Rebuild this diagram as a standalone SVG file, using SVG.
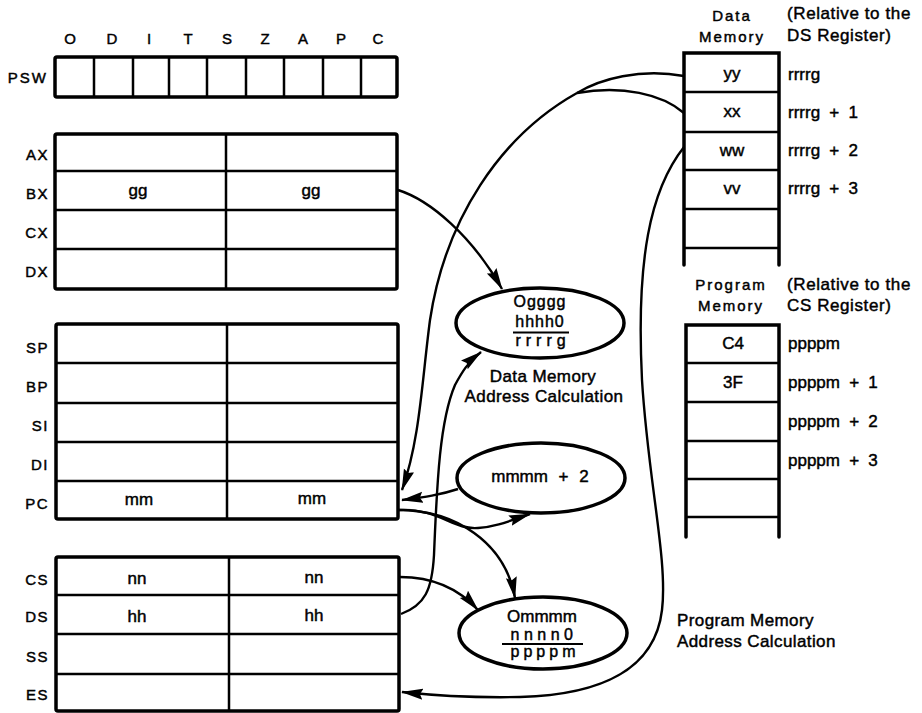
<svg xmlns="http://www.w3.org/2000/svg" width="922" height="713" viewBox="0 0 922 713">
<defs>
<style>
text { font-family: "Liberation Sans", Arial, sans-serif; fill: #000; stroke: #000; stroke-width: 0.45px; }
.lbl { font-size: 15px; letter-spacing: 1.5px; text-anchor: end; }
.flag { font-size: 15px; text-anchor: middle; }
.val { font-size: 17px; text-anchor: middle; }
.hdr { font-size: 15px; letter-spacing: 2px; text-anchor: middle; }
.rel { font-size: 17px; letter-spacing: 0.6px; }
.off { font-size: 17px; word-spacing: 4.5px; }
.calc { font-size: 16px; text-anchor: middle; }
.cap { font-size: 17px; letter-spacing: 0.4px; }
.box { fill: #fff; stroke: #000; stroke-width: 3.5; }
.ln { stroke: #000; stroke-width: 2.5; fill: none; }
.thick { stroke: #000; stroke-width: 3.5; fill: none; stroke-linecap: round; }
.ell { fill: #fff; stroke: #000; stroke-width: 3.5; }
.wire { fill: none; stroke: #000; stroke-width: 2.4; }
.arr { marker-end: url(#ah); }
</style>
<marker id="ah" markerUnits="userSpaceOnUse" markerWidth="24" markerHeight="12" refX="21" refY="5.5" orient="auto">
<path d="M0,0 L22,5.5 L0,11 L3,5.5 z" fill="#000"/>
</marker>
</defs>
<rect width="922" height="713" fill="#fff"/>

<g id="psw">
<text class="flag" x="70" y="44">O</text>
<text class="flag" x="112" y="44">D</text>
<text class="flag" x="149" y="44">I</text>
<text class="flag" x="188" y="44">T</text>
<text class="flag" x="227" y="44">S</text>
<text class="flag" x="265" y="44">Z</text>
<text class="flag" x="303" y="44">A</text>
<text class="flag" x="341" y="44">P</text>
<text class="flag" x="378" y="44">C</text>
<text class="lbl" x="48" y="83" style="letter-spacing:2px">PSW</text>
<rect class="box" x="55" y="57" width="342" height="40" rx="2"/>
<path class="ln" d="M94 57V97M133 57V97M169 57V97M207 57V97M246 57V97M284 57V97M323 57V97M361 57V97"/>
</g>

<g id="general-registers">
<rect class="box" x="55" y="134" width="342" height="155" rx="2"/>
<path class="ln" d="M226 134V289M55 171H397M55 210H397M55 249H397"/>
<text class="lbl" x="49" y="160">AX</text>
<text class="lbl" x="49" y="199">BX</text>
<text class="lbl" x="49" y="238">CX</text>
<text class="lbl" x="49" y="277">DX</text>
<text class="val" x="138" y="196">gg</text>
<text class="val" x="311" y="196">gg</text>
</g>

<g id="pointer-registers">
<rect class="box" x="56" y="324" width="342" height="195" rx="2"/>
<path class="ln" d="M227 324V519M56 363H398M56 403H398M56 442H398M56 481H398"/>
<text class="lbl" x="49" y="353">SP</text>
<text class="lbl" x="49" y="392">BP</text>
<text class="lbl" x="49" y="431">SI</text>
<text class="lbl" x="49" y="470">DI</text>
<text class="lbl" x="49" y="509">PC</text>
<text class="val" x="139" y="505">mm</text>
<text class="val" x="312" y="504">mm</text>
</g>

<g id="segment-registers">
<rect class="box" x="56" y="557" width="343" height="154" rx="2"/>
<path class="ln" d="M229 557V711M56 595H399M56 634H399M56 674H399"/>
<text class="lbl" x="49" y="585">CS</text>
<text class="lbl" x="49" y="622">DS</text>
<text class="lbl" x="49" y="662">SS</text>
<text class="lbl" x="49" y="700">ES</text>
<text class="val" x="137" y="584">nn</text>
<text class="val" x="314" y="583">nn</text>
<text class="val" x="137" y="622">hh</text>
<text class="val" x="314" y="621">hh</text>
</g>

<g id="data-memory">
<text class="hdr" x="732" y="21">Data</text>
<text class="hdr" x="732" y="42">Memory</text>
<text class="rel" x="787" y="19">(Relative to the</text>
<text class="rel" x="787" y="41">DS Register)</text>
<rect x="684" y="53" width="95" height="212" fill="#fff"/>
<path class="thick" d="M684 265V53H779V265"/>
<path class="ln" d="M684 92H779M684 132H779M684 170H779M684 209H779M684 248H779"/>
<text class="val" x="732" y="79">yy</text>
<text class="val" x="732" y="117">xx</text>
<text class="val" x="732" y="156">ww</text>
<text class="val" x="732" y="194">vv</text>
<text class="off" x="788" y="80">rrrrg</text>
<text class="off" x="788" y="118">rrrrg + 1</text>
<text class="off" x="788" y="156">rrrrg + 2</text>
<text class="off" x="788" y="194">rrrrg + 3</text>
</g>

<g id="program-memory">
<text class="hdr" x="731" y="290">Program</text>
<text class="hdr" x="731" y="311">Memory</text>
<text class="rel" x="787" y="290">(Relative to the</text>
<text class="rel" x="787" y="311">CS Register)</text>
<path class="thick" d="M686 537V325H779V537"/>
<path class="ln" d="M686 363H779M686 402H779M686 441H779M686 479H779M686 517H779"/>
<text class="val" x="733" y="349">C4</text>
<text class="val" x="733" y="388">3F</text>
<text class="off" x="788" y="349">ppppm</text>
<text class="off" x="788" y="388">ppppm + 1</text>
<text class="off" x="788" y="427">ppppm + 2</text>
<text class="off" x="788" y="466">ppppm + 3</text>
</g>

<g id="connectors">
<path class="wire arr" d="M398 190 C430 200, 472 236, 502 289"/>
<path class="wire" d="M684 113 C662 94, 622 85, 577 93"/>
<path class="wire arr" d="M684 76 C640 68, 600 79, 577 93 C500 136, 445 220, 430 320 C422 380, 420 440, 402 490"/>
<path class="wire arr" d="M684 147 C650 190, 636 260, 642 380 C648 480, 668 560, 662 610 C655 670, 600 695, 520 697 C470 698, 430 695, 402 692"/>
<path class="wire arr" d="M398 510 C440 508, 452 530, 478 528 C496 527, 512 520, 530 514"/>
<path class="wire arr" d="M398 510 C455 510, 505 542, 515 598"/>
<path class="wire arr" d="M458 489 C440 495, 425 497, 402 500"/>
<path class="wire arr" d="M400 577 C435 577, 460 590, 478 610"/>
<path class="wire arr" d="M401 614 C425 605, 432 590, 434 555 C437 480, 440 420, 455 385 C462 372, 468 362, 481 352"/>
</g>

<g id="data-address-calc">
<ellipse class="ell" cx="540" cy="323" rx="84" ry="35"/>
<text class="calc" x="540" y="307" style="letter-spacing:1px">Ogggg</text>
<text class="calc" x="540" y="327" style="letter-spacing:1px">hhhh0</text>
<path class="ln" d="M513 332.5H569" style="stroke-width:2"/>
<text class="calc" x="543" y="346" style="letter-spacing:5px">rrrrg</text>
<text class="cap" x="543" y="382" text-anchor="middle">Data Memory</text>
<text class="cap" x="544" y="402" text-anchor="middle">Address Calculation</text>
</g>

<g id="pc-increment">
<ellipse class="ell" cx="541" cy="478" rx="84" ry="35"/>
<text class="calc" x="540" y="482" style="font-size:17px;word-spacing:6px">mmmm + 2</text>
</g>

<g id="program-address-calc">
<ellipse class="ell" cx="543" cy="633" rx="84" ry="36"/>
<text class="calc" x="542" y="622" style="font-size:17px">Ommmm</text>
<text class="calc" x="544" y="640" style="letter-spacing:4.5px">nnnn0</text>
<path class="ln" d="M502 644H583" style="stroke-width:2"/>
<text class="calc" x="545" y="657" style="letter-spacing:4px">ppppm</text>
</g>

<g id="program-calc-label">
<text class="cap" x="677" y="626">Program Memory</text>
<text class="cap" x="677" y="647">Address Calculation</text>
</g>
</svg>
